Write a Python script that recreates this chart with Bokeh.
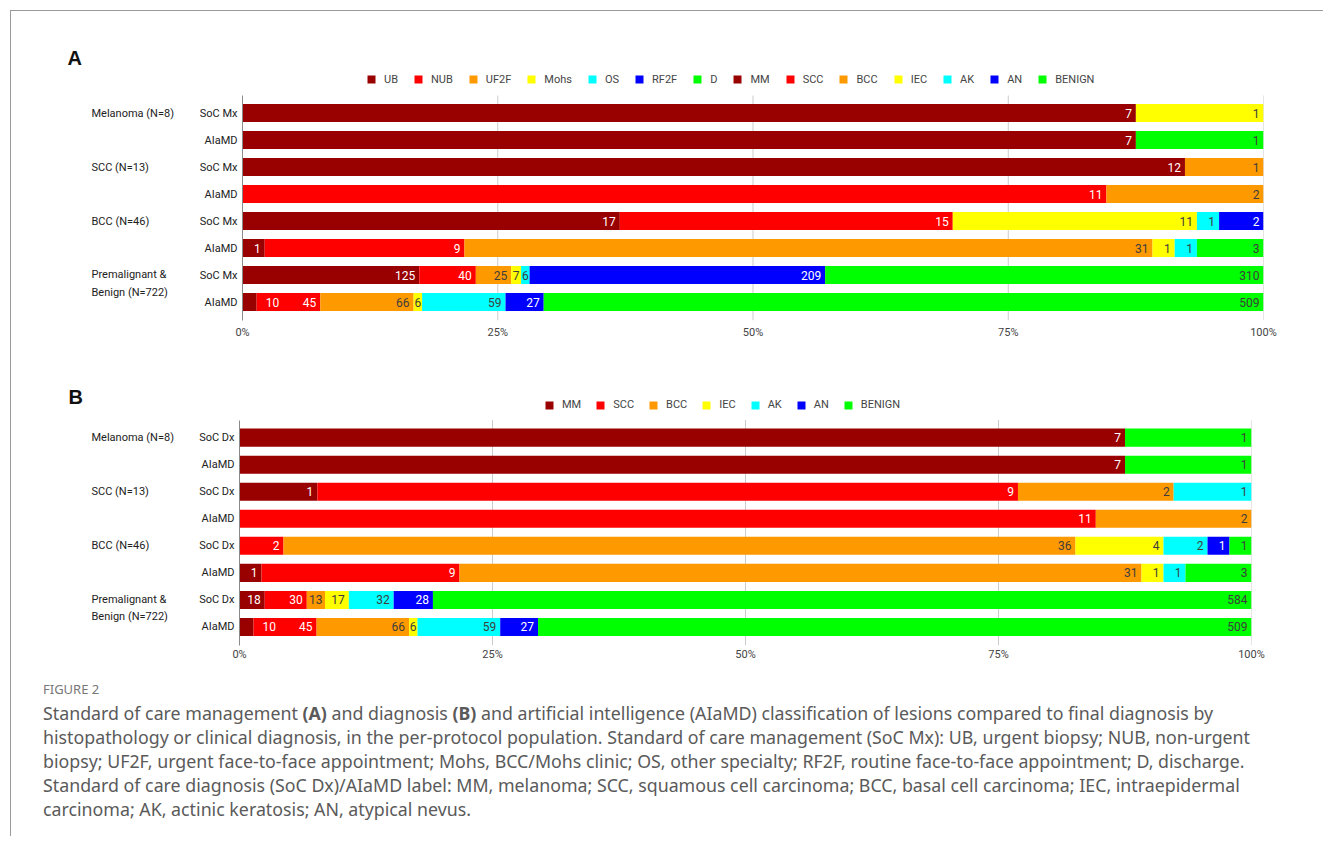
from bokeh.plotting import figure
from bokeh.models import (Range1d, FixedTicker, NumeralTickFormatter, Legend,
                          LegendItem, ColumnDataSource, Div)
from bokeh.layouts import column, row
from bokeh.core.properties import value
from bokeh.embed import file_html
from bokeh.resources import INLINE

# ---------------- data ----------------
group_lines = [["Melanoma (N=8)"], ["SCC (N=13)"], ["BCC (N=46)"],
               ["Premalignant &", "Benign (N=722)"]]
mx_names = ["UB", "NUB", "UF2F", "Mohs", "OS", "RF2F", "D"]
dx_names = ["MM", "SCC", "BCC", "IEC", "AK", "AN", "BENIGN"]
palette = ["#990000", "#ff0000", "#ff9900", "#ffff00", "#00ffff", "#0000ff", "#00ff00"]
x_ticks = [0, 0.25, 0.5, 0.75, 1.0]

# Standard of care management (per group: Melanoma, SCC, BCC, Premalignant & Benign)
mx_ub = [7, 12, 17, 125]
mx_nub = [0, 0, 15, 40]
mx_uf2f = [0, 1, 0, 25]
mx_mohs = [1, 0, 11, 7]
mx_os = [0, 0, 1, 6]
mx_rf2f = [0, 0, 2, 209]
mx_d = [0, 0, 0, 310]

# AIaMD label
ai_mm = [7, 0, 1, 10]
ai_scc = [0, 11, 9, 45]
ai_bcc = [0, 2, 31, 66]
ai_iec = [0, 0, 1, 6]
ai_ak = [0, 0, 1, 59]
ai_an = [0, 0, 0, 27]
ai_benign = [1, 0, 3, 509]

# Standard of care diagnosis
dx_mm = [7, 1, 0, 18]
dx_scc = [0, 9, 2, 30]
dx_bcc = [0, 2, 36, 13]
dx_iec = [0, 0, 4, 17]
dx_ak = [0, 1, 2, 32]
dx_an = [0, 0, 1, 28]
dx_benign = [1, 0, 1, 584]

mx_series = [mx_ub, mx_nub, mx_uf2f, mx_mohs, mx_os, mx_rf2f, mx_d]
ai_series = [ai_mm, ai_scc, ai_bcc, ai_iec, ai_ak, ai_an, ai_benign]
dx_series = [dx_mm, dx_scc, dx_bcc, dx_iec, dx_ak, dx_an, dx_benign]

# ---------------- layout constants ----------------
FONT = "Roboto"
DARK_TEXT = "#3d3d3d"
WHITE_ON = {"#990000", "#ff0000", "#0000ff"}

X0 = 11          # page x of content left (margin + border)
TOTAL_W = 1312
LEFT_W = 180     # width of the left label strip
ROW = 27.0       # px between rows
BAR_TOP = -17.5 / ROW          # bar area top, in row units
BAR_BOT = 7 + 18.5 / ROW       # bar area bottom, in row units


def build_panel(letter, soc_label, soc_names, soc_series, legend_names,
                top_px, first_row_px, frame_left, frame_right, bottom_border,
                letter_px, legend_px, legend_spacing, tick_standoff):
    fw = frame_right - frame_left
    main_w = TOTAL_W - LEFT_W
    bl = frame_left - (X0 + LEFT_W)
    br = main_w - bl - fw
    frame_bottom_px = first_row_px + BAR_BOT * ROW
    H = int(round(frame_bottom_px - top_px + bottom_border))
    y_top = (top_px - first_row_px) / ROW

    # ---------- main chart ----------
    p = figure(width=main_w, height=H, output_backend="svg", toolbar_location=None,
               x_range=Range1d(0, 1), y_range=Range1d(BAR_BOT, y_top),
               min_border_left=bl, min_border_right=br,
               min_border_top=0, min_border_bottom=bottom_border)
    p.outline_line_color = None
    p.xgrid.visible = False
    p.ygrid.visible = False

    # vertical grid lines (bar area only)
    gx = [t for t in x_ticks if t > 0]
    p.segment(x0=gx, x1=gx, y0=[BAR_TOP] * len(gx), y1=[BAR_BOT] * len(gx),
              line_color="#cccccc", line_width=1)

    segs = {}
    lab_in = dict(x=[], y=[], t=[], c=[], off=[])
    lab_out = dict(x=[], y=[], t=[], c=[])
    for g in range(4):
        for k, (names, series) in enumerate([(soc_names, soc_series), (dx_names, ai_series)]):
            r = 2 * g + k
            vals = [s[g] for s in series]
            total = float(sum(vals))
            cum = 0.0
            for i, v in enumerate(vals):
                if v <= 0:
                    continue
                left = cum / total
                cum += v
                right = cum / total
                d = segs.setdefault(names[i], dict(y=[], l=[], r=[]))
                d["y"].append(r); d["l"].append(left); d["r"].append(right)
                color = palette[i]
                txt = str(v)
                tw = 6.6 * len(txt)
                seg_px = (right - left) * fw
                if len(txt) >= 2 and seg_px < tw + 4:
                    lab_out["x"].append(right); lab_out["y"].append(r)
                    lab_out["t"].append(txt); lab_out["c"].append("white")
                else:
                    pad = min(4.0, max(0.5, (seg_px - tw) / 2.0))
                    lab_in["x"].append(right); lab_in["y"].append(r)
                    lab_in["t"].append(txt)
                    lab_in["c"].append("white" if color in WHITE_ON else DARK_TEXT)
                    lab_in["off"].append(-pad)

    renderers = {}
    for names in (soc_names, dx_names):
        for i, n in enumerate(names):
            if n in renderers or n not in segs:
                continue
            renderers[n] = p.hbar(y="y", left="l", right="r", height=18 / ROW,
                                  fill_color=palette[i], line_color=None,
                                  source=ColumnDataSource(segs[n]))

    p.text(x="x", y="y", text="t", text_color="c", x_offset="off",
           source=ColumnDataSource(lab_in), text_align="right", text_baseline="middle",
           text_font=value(FONT), text_font_size="12px")
    p.text(x="x", y="y", text="t", text_color="c", x_offset=9,
           source=ColumnDataSource(lab_out), text_align="left", text_baseline="middle",
           text_font=value(FONT), text_font_size="12px")

    sub = {}
    for g in range(4):
        sub[2 * g] = soc_label
        sub[2 * g + 1] = "AIaMD"
    p.yaxis.ticker = FixedTicker(ticks=list(range(8)))
    p.yaxis.major_label_overrides = sub
    p.yaxis.bounds = (BAR_TOP, BAR_BOT)
    p.yaxis.major_tick_line_color = None
    p.yaxis.minor_tick_line_color = None
    p.yaxis.major_tick_out = 0
    p.yaxis.major_tick_in = 0
    p.yaxis.axis_line_color = "#8a8a8a"
    p.yaxis.major_label_text_font = FONT
    p.yaxis.major_label_text_font_size = "11px"
    p.yaxis.major_label_text_color = "#222222"
    p.yaxis.major_label_standoff = 5

    p.xaxis.ticker = FixedTicker(ticks=x_ticks)
    p.xaxis.formatter = NumeralTickFormatter(format="0%")
    p.xaxis.axis_line_color = None
    p.xaxis.major_tick_line_color = None
    p.xaxis.minor_tick_line_color = None
    p.xaxis.major_tick_out = 0
    p.xaxis.major_tick_in = 0
    p.xaxis.major_label_text_font = FONT
    p.xaxis.major_label_text_font_size = "11px"
    p.xaxis.major_label_text_color = "#444444"
    p.xaxis.major_label_standoff = tick_standoff

    # legend (inside the extended frame, above the bars)
    items = [LegendItem(label=n, renderers=[renderers[n]]) for n in legend_names if n in renderers]
    lx0, lyc = legend_px
    legend = Legend(items=items, orientation="horizontal",
                    location=(lx0 - frame_left, frame_bottom_px - (lyc + 6.5)),
                    glyph_width=10, glyph_height=10, label_standoff=8,
                    spacing=legend_spacing,
                    padding=0, margin=0, border_line_color=None,
                    background_fill_alpha=0, label_text_font=FONT,
                    label_text_font_size="11px", label_text_color="#444444",
                    label_height=10, label_width=0)
    p.add_layout(legend)

    # ---------- left strip: panel letter and group labels ----------
    q = figure(width=LEFT_W, height=H, output_backend="svg", toolbar_location=None,
               x_range=Range1d(X0, X0 + LEFT_W),
               y_range=Range1d(BAR_BOT, y_top),
               x_axis_type=None, y_axis_type=None,
               min_border_left=0, min_border_right=0, min_border_top=0,
               min_border_bottom=bottom_border)
    q.outline_line_color = None
    q.xgrid.visible = False
    q.ygrid.visible = False
    gl_x, gl_y, gl_t = [], [], []
    for g, lines in enumerate(group_lines):
        ys = [2 * g] if len(lines) == 1 else [2 * g - 0.5 / ROW, 2 * g + 17 / ROW]
        for ln, yy in zip(lines, ys):
            gl_x.append(91); gl_y.append(yy); gl_t.append(ln)
    q.text(x=gl_x, y=gl_y, text=gl_t, text_font=value(FONT), text_font_size="11px",
           text_color="#222222", text_align="left", text_baseline="middle")
    ltx, lty = letter_px
    q.text(x=[ltx], y=[(lty - first_row_px) / ROW], text=[letter],
           text_font=value("Liberation Sans"), text_font_style="bold",
           text_font_size="20px", text_color="#111111",
           text_align="left", text_baseline="middle")

    return row(q, p, spacing=0), H


panelA, HA = build_panel("A", "SoC Mx", mx_names, mx_series, mx_names + dx_names,
                         top_px=X0, first_row_px=112.5, frame_left=242, frame_right=1263,
                         bottom_border=42, letter_px=(67, 57), legend_px=(366, 79),
                         legend_spacing=15, tick_standoff=5)
panelB, HB = build_panel("B", "SoC Dx", dx_names, dx_series, dx_names,
                         top_px=X0 + HA, first_row_px=437.0, frame_left=239, frame_right=1251,
                         bottom_border=35, letter_px=(68, 396), legend_px=(544, 404),
                         legend_spacing=14, tick_standoff=2)

caption_lines = [
    "Standard of care management <b>(A)</b> and diagnosis <b>(B)</b> and artificial intelligence (AIaMD) classification of lesions compared to final diagnosis by",
    "histopathology or clinical diagnosis, in the per-protocol population. Standard of care management (SoC Mx): UB, urgent biopsy; NUB, non-urgent",
    "biopsy; UF2F, urgent face-to-face appointment; Mohs, BCC/Mohs clinic; OS, other specialty; RF2F, routine face-to-face appointment; D, discharge.",
    "Standard of care diagnosis (SoC Dx)/AIaMD label: MM, melanoma; SCC, squamous cell carcinoma; BCC, basal cell carcinoma; IEC, intraepidermal",
    "carcinoma; AK, actinic keratosis; AN, atypical nevus.",
]
caption_html = (
    "<div style=\"font-family:'Noto Sans',sans-serif;color:#5a5a5a;padding-left:32px;white-space:nowrap\">"
    "<div style=\"font-size:13px;line-height:18px;color:#777777\">FIGURE 2</div>"
    "<div style=\"font-size:17.8px;line-height:24px;margin-top:3px\">"
    + "<br>".join(caption_lines) + "</div></div>"
)
caption = Div(text=caption_html, width=TOTAL_W, height=156, margin=0)

layout = column(panelA, panelB, caption, margin=(10, 0, 0, 10), spacing=0,
                styles={"border-top": "1px solid #9a9a9a", "border-left": "1px solid #9a9a9a"})

open("out.html", "w").write(file_html(layout, INLINE))
